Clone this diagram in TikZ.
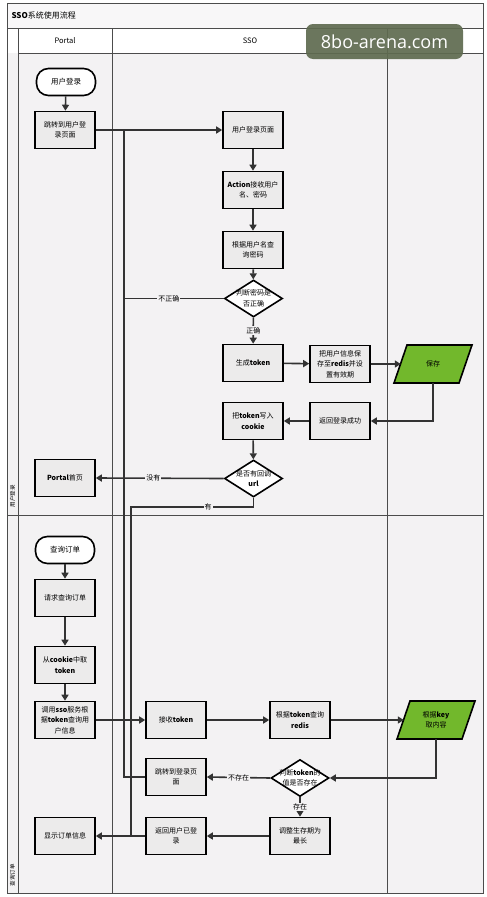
\documentclass[tikz,border=0pt]{standalone}
\usepackage{fontspec}
\setmainfont{Noto Sans CJK SC}
\newfontfamily\wmfont{Open Sans}
\usetikzlibrary{arrows.meta,shapes.geometric,calc}
\definecolor{boxfill}{HTML}{ECEBEB}
\definecolor{lanebg}{HTML}{F3F2F3}
\definecolor{greenfill}{HTML}{72B82C}
\definecolor{wm}{HTML}{5F6B50}
\begin{document}
\begin{tikzpicture}[x=1pt,y=-1pt,
  box/.style={draw=black, line width=1.6pt, fill=boxfill, minimum width=60pt, minimum height=37pt,
    align=center, font=\fontsize{7}{10.5}\selectfont, inner sep=1pt},
  term/.style={draw=black, line width=1.6pt, fill=white, rounded corners=12pt, minimum width=59pt,
    minimum height=27pt, font=\fontsize{7.5}{9}\selectfont},
  dia/.style={diamond, draw=black, line width=1.6pt, fill=white, minimum width=58pt, minimum height=37pt, inner sep=0pt},
  dtext/.style={align=center, font=\fontsize{7}{10.5}\selectfont, inner sep=0pt},
  para/.style={minimum width=64pt, minimum height=38pt,
    align=center, font=\fontsize{7}{10.5}\selectfont, inner sep=0pt},
  parashape/.style={draw=black, line width=1.6pt, fill=greenfill, line join=miter},
  arr/.style={draw=black!80, line width=1.6pt, -{Triangle[length=6pt,width=7pt]}},
  ln/.style={draw=black!80, line width=1.6pt},
  lbl/.style={fill=lanebg, font=\fontsize{7}{8}\selectfont, inner sep=1pt},
  frame/.style={draw=black!70, line width=0.8pt},
  hdr/.style={font=\fontsize{7.5}{9}\selectfont}
]
\useasboundingbox (0,0) rectangle (487,897);
\fill[white] (0,0) rectangle (487,897);
% frame and lanes
\fill[lanebg] (7,53) rectangle (483,893);
\fill[white] (18,28) rectangle (483,53);
\fill[lanebg!60!white] (7,3) rectangle (483,28);
\draw[frame] (7,3) rectangle (483,893);
\draw[frame] (7,28) -- (483,28);
\draw[frame] (18,53) -- (483,53);
\draw[frame] (18,28) -- (18,893);
\draw[frame] (112,28) -- (112,893);
\draw[frame] (387,28) -- (387,893);
\draw[frame] (7,515) -- (483,515);
\node[anchor=west, font=\fontsize{8}{9}\selectfont] (title) at (8,15) {\textbf{SSO}系统使用流程};
\node[hdr] (hp) at (65,41) {Portal};
\node[hdr] (hs) at (250,41) {SSO};
\node[hdr] (hr) at (435,41) {Redis};
\node[rotate=90, font=\fontsize{5.5}{6}\selectfont] (lane1) at (12.5,496) {用户登录};
\node[rotate=90, font=\fontsize{5.5}{6}\selectfont] (lane2) at (12.5,875) {查询订单};
% parallelogram outlines
\draw[parashape] (407,345) -- (472,345) -- (459,383) -- (394,383) -- cycle;
\draw[parashape] (410,701) -- (475,701) -- (462,739) -- (397,739) -- cycle;
% upper lane nodes
\node[term] (start) at (66,82) {用户登录};
\node[box] (jump) at (65,130) {跳转到用户登\\录页面};
\node[box] (loginpage) at (253,130) {用户登录页面};
\node[box] (action) at (253,190) {\textbf{Action}接收用户\\名、密码};
\node[box] (query) at (253,250) {根据用户名查\\询密码};
\node[dia] (d1) at (253.5,298.5) {};
\node[dtext] (d1t) at (d1) {判断密码是\\否正确};
\node[box] (gen) at (253,363) {生成\textbf{token}};
\node[box] (store) at (340,364) {把用户信息保\\存至\textbf{redis}并设\\置有效期};
\node[para] (save) at (433,364) {保存};
\node[box] (ret) at (340,421) {返回登录成功};
\node[box] (cookie) at (253,421) {把\textbf{token}写入\\\textbf{cookie}};
\node[dia] (d2) at (253.5,478.5) {};
\node[dtext] (d2t) at (d2) {是否有回调\\\textbf{url}};
\node[box] (home) at (65,478) {\textbf{Portal}首页};
% lower lane nodes
\node[term] (start2) at (65,550) {查询订单};
\node[box] (req) at (65,598) {请求查询订单};
\node[box] (take) at (65,665) {从\textbf{cookie}中取\\\textbf{token}};
\node[box] (call) at (65,720) {调用\textbf{sso}服务根\\据\textbf{token}查询用\\户信息};
\node[box] (recv) at (176,720) {接收\textbf{token}};
\node[box] (qr) at (300,720) {根据\textbf{token}查询\\\textbf{redis}};
\node[para] (key) at (436,720) {根据\textbf{key}\\取内容};
\node[box] (jump2) at (176,777) {跳转到登录页\\面};
\node[dia] (d3) at (300,778) {};
\node[dtext] (d3t) at (d3) {判断\textbf{token}的\\值是否存在};
\node[box] (adjust) at (300,836) {调整生存期为\\最长};
\node[box] (retl) at (176,836) {返回用户已登\\录};
\node[box] (show) at (65,836) {显示订单信息};
% junctions
\coordinate (j1) at (124,130);
\coordinate (j2) at (131,836);
\coordinate (h1) at (253.5,507);
% connectors upper
\draw[arr] (start) -- (jump);
\draw[arr] (jump) -- (loginpage);
\draw[arr] (loginpage) -- (action);
\draw[arr] (action) -- (query);
\draw[arr] (query) -- (d1);
\draw[ln] (jump2.west) -- (jump2.west -| j1) -- (j1);
\draw[ln] (d1.west) -- node[lbl, pos=0.55]{不正确} (d1.west -| j1);
\draw[arr] (d1) -- node[lbl]{正确} (gen);
\draw[arr] (gen) -- (store);
\draw[arr] (store) -- (save);
\draw[arr] (save.south) |- (ret.east);
\draw[arr] (ret) -- (cookie);
\draw[arr] (cookie) -- (d2);
\draw[arr] (d2.west) -- node[lbl, pos=0.55]{没有} (home.east);
\draw[ln] (d2.south) -- (h1) -- node[lbl, pos=0.37]{有} (h1 -| j2) -- (j2);
% connectors lower
\draw[arr] (start2) -- (req);
\draw[arr] (req) -- (take);
\draw[arr] (take) -- (call);
\draw[arr] (call) -- (recv);
\draw[arr] (recv) -- (qr);
\draw[arr] (qr) -- (key);
\draw[arr] (key.south) |- (d3.east);
\draw[arr] (d3.west) -- node[lbl]{不存在} (jump2.east);
\draw[arr] (d3) -- node[lbl]{存在} (adjust);
\draw[arr] (adjust) -- (retl);
\draw[arr] (retl) -- (show);
% watermark
\node[fill=wm, fill opacity=0.92, text opacity=1, text=white, rounded corners=7pt,
  minimum width=157pt, minimum height=35pt, font=\wmfont\fontsize{18}{20}\selectfont] (wmk) at (384.5,41.5) {8bo-arena.com};
\end{tikzpicture}
\end{document}
